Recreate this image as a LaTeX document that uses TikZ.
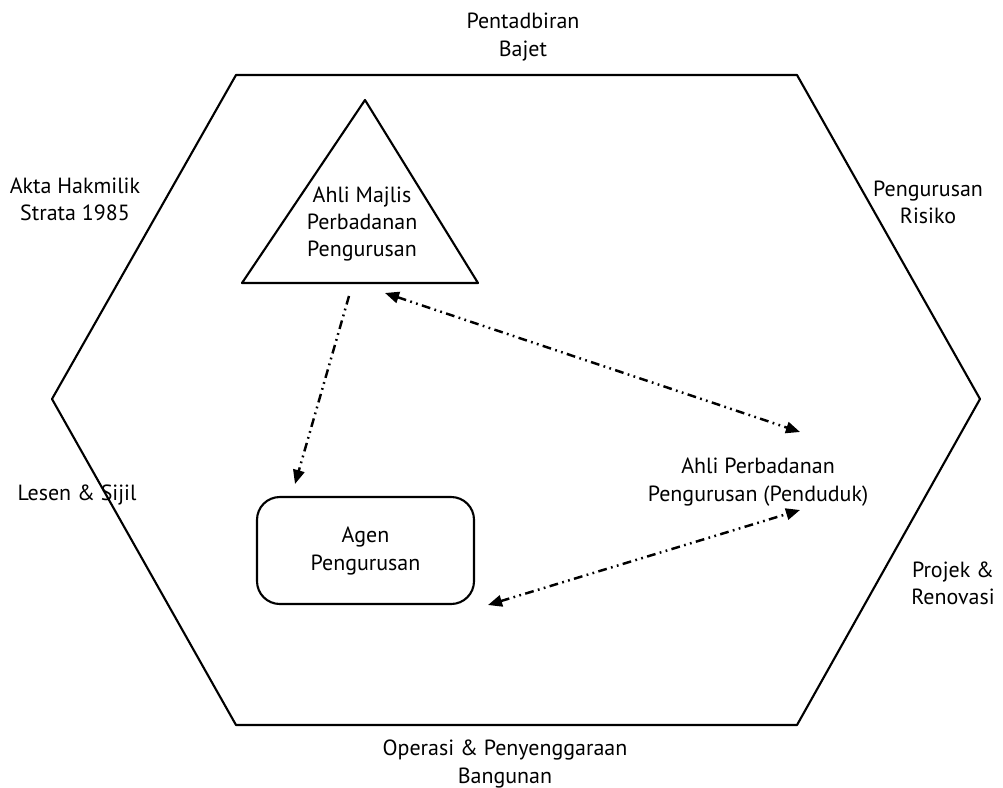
\documentclass[tikz,border=0pt]{standalone}
\usepackage{fontspec}
\setmainfont{PT Sans}
\usetikzlibrary{arrows.meta}

\tikzset{
  lbl/.style={align=center,inner sep=0pt,font=\fontsize{12.5}{15.5}\selectfont},
  agenbox/.style={draw,line width=1.2pt,rounded corners=13pt,minimum width=217*0.02cm,minimum height=107*0.02cm},
  link/.style={line width=1.4pt,dash pattern=on 5pt off 2.5pt on 1pt off 2.5pt on 1pt off 2.5pt}
}

\begin{document}
\begin{tikzpicture}[line cap=butt,line join=round,>={Triangle[length=8pt,width=6.5pt]},x=0.02cm,y=-0.02cm]

\useasboundingbox (0,0) rectangle (1003,787);

% hexagon frame
\coordinate (h1) at (236,75);
\coordinate (h2) at (797,75);
\coordinate (h3) at (980,399);
\coordinate (h4) at (797,725);
\coordinate (h5) at (236,725);
\coordinate (h6) at (52,399);
\draw [line width=1.2pt] (h1) -- (h2) -- (h3) -- (h4) -- (h5) -- (h6) -- cycle;

% triangle
\coordinate (t1) at (365,100);
\coordinate (t2) at (478,283);
\coordinate (t3) at (242,283);
\draw [line width=1.2pt] (t1) -- (t2) -- (t3) -- cycle;
\node[lbl] (majlis) at (362,224) {Ahli Majlis\\Perbadanan\\Pengurusan};

\node[agenbox] (agen) at (365.5,550.5) {};
\node[lbl] (agentxt) at (365.5,551) {Agen\\Pengurusan};

\node[lbl] (penduduk) at (758,482) {Ahli Perbadanan\\Pengurusan (Penduduk)};

% outer labels
\node[lbl] (bajet) at (523,37) {Pentadbiran\\Bajet};
\node[lbl] (akta) at (75,199) {Akta Hakmilik\\Strata 1985};
\node[lbl] (risiko) at (928,202) {Pengurusan\\Risiko};
\node[lbl] (lesen) at (77,495) {Lesen \& Sijil};
\node[lbl] (projek) at (953,583) {Projek \&\\Renovasi};
\node[lbl] (operasi) at (505,764) {Operasi \& Penyenggaraan\\Bangunan};

% arrow ends
\coordinate (m1) at (349,296);
\coordinate (m2) at (385,293);
\coordinate (g1) at (295,484);
\coordinate (g2) at (488,605);
\coordinate (p1) at (800,432);
\coordinate (p2) at (800,510);

\draw [link,->] (m1) -- (g1);
\draw [link,<->] (m2) -- (p1);
\draw [link,<->] (g2) -- (p2);

\end{tikzpicture}
\end{document}
